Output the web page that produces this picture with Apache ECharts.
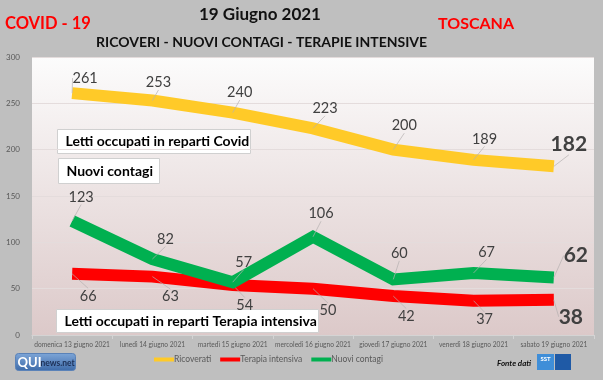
<!DOCTYPE html>
<html><head><meta charset="utf-8">
<script src="https://cdn.jsdelivr.net/npm/echarts@6/dist/echarts.min.js"></script>
<style>html,body{margin:0;padding:0;background:#bfbfbf}#c{width:603px;height:380px}</style>
</head><body><div id="c"></div>
<script>
const categories = ['domenica 13 giugno 2021','lunedì 14 giugno 2021','martedì 15 giugno 2021','mercoledì 16 giugno 2021','giovedì 17 giugno 2021','venerdì 18 giugno 2021','sabato 19 giugno 2021'];
const ricoverati = [261, 253, 240, 223, 200, 189, 182];
const terapia = [66, 63, 54, 50, 42, 37, 38];
const contagi = [123, 82, 57, 106, 60, 67, 62];
const yTicks = [0, 50, 100, 150, 200, 250, 300];

// label offsets (style)
const offR = [[13,-15],[6,-18],[7,-20],[12,-20],[11,-24],[11,-21],[15,-22]];
const offC = [[9,-24],[13,-20],[11,-20],[8,-23],[6,-26],[13,-21],[22,-22]];
const offT = [[16,22],[18,20],[12,20],[15,22],[13,20],[11,19],[17,17]];

const FONT = 'Lato';
const chart = echarts.init(document.getElementById('c'), null, {renderer:'canvas'});

function mkSeries(name, data, color, off, z) {
  const last = data.length - 1;
  return {
    name, type:'line', data: data.map((v,i)=>({
      value:v,
      label: i===last ? {fontSize:21, fontWeight:'bold', color:'#404040'} : undefined
    })),
    z,
    symbol:'circle', symbolSize:0.01, showSymbol:true,
    itemStyle:{color},
    lineStyle:{color, width:12, cap:'butt', join:'miter'},
    emphasis:{disabled:true},
    label:{show:true, position:'inside', fontFamily:FONT, fontSize:14.5, color:'#404040'},
    labelLine:{show:true, length2:0, lineStyle:{color:'#b4b0b0', width:0.7}},
    labelLayout: p => ({dx: off[p.dataIndex][0], dy: off[p.dataIndex][1]})
  };
}

function box(x,y,w,h,text){
  return {type:'group', left:x, top:y, z:100, children:[
    {type:'rect', shape:{x:0,y:0,width:w,height:h}, style:{fill:'#ffffff', stroke:'#d0d0d0', lineWidth:1}},
    {type:'text', style:{x:8, y:h/2, text, fontFamily:FONT, fontWeight:'bold', fontSize:14, fill:'#000', verticalAlign:'middle'}}
  ]};
}

chart.setOption({
  backgroundColor:'#bfbfbf',
  animation:false,
  grid:{left:32, right:9, top:57, bottom:45, show:true, borderWidth:0,
    backgroundColor:{type:'linear', x:0, y:0, x2:0, y2:1, colorStops:[{offset:0,color:'#fcfcfc'},{offset:1,color:'#dcc9c9'}]}},
  xAxis:{type:'category', data:categories, boundaryGap:true,
    axisLine:{lineStyle:{color:'#d4d4d4'}},
    axisTick:{show:true, length:4, lineStyle:{color:'#d4d4d4'}},
    axisLabel:{fontFamily:FONT, fontSize:6.6, color:'#595959', margin:6, interval:0}},
  yAxis:{type:'value', min:0, max:300, interval:50,
    axisLine:{show:false}, axisTick:{show:false},
    axisLabel:{fontFamily:FONT, fontSize:8, color:'#595959', margin:12, formatter: v => yTicks.includes(v) ? String(v) : ''},
    splitLine:{lineStyle:{color:'#e4dcdc', width:1}}},
  legend:{left:149, top:350, itemWidth:20, itemHeight:4, itemGap:9, icon:'rect',
    textStyle:{fontFamily:FONT, fontSize:8.5, color:'#595959', padding:[0,0,0,-5]},
    data:['Ricoverati','Terapia intensiva','Nuovi contagi']},
  series:[
    mkSeries('Ricoverati', ricoverati, '#ffca28', offR, 3),
    mkSeries('Terapia intensiva', terapia, '#ff0000', offT, 4),
    mkSeries('Nuovi contagi', contagi, '#00b050', offC, 5)
  ],
  graphic:[
    {type:'text', left:199, top:6, style:{text:'19 Giugno 2021', fontFamily:FONT, fontWeight:'bold', fontSize:17, fill:'#111'}},
    {type:'text', left:96, top:35, style:{text:'RICOVERI - NUOVI CONTAGI - TERAPIE INTENSIVE', fontFamily:FONT, fontWeight:'bold', fontSize:14, fill:'#111'}},
    {type:'text', left:5, top:15, style:{text:'COVID - 19', fontFamily:FONT, fontWeight:'bold', fontSize:16.5, fill:'#ff0000'}},
    {type:'text', left:438, top:16, style:{text:'TOSCANA', fontFamily:FONT, fontWeight:'bold', fontSize:16, fill:'#ff0000'}},
    box(57,129,193,24,'Letti occupati in reparti Covid'),
    box(58,158,101,25,'Nuovi contagi'),
    box(56,309,262,23,'Letti occupati in reparti Terapia intensiva'),
    {type:'group', left:15, top:353, children:[
      {type:'rect', shape:{x:0,y:0,width:60,height:17,r:3}, style:{fill:{type:'linear',x:0,y:0,x2:0,y2:1,colorStops:[{offset:0,color:'#7ea6d8'},{offset:1,color:'#3d6aa8'}]}, stroke:'#5a82b8'}},
      {type:'text', style:{x:2, y:9, text:'QUI', fontFamily:FONT, fontWeight:'bold', fontSize:13, fill:'#fff', verticalAlign:'middle'}},
      {type:'text', style:{x:25, y:10, text:'news.net', fontFamily:FONT, fontWeight:'bold', fontSize:8.5, fill:'#1c2f55', verticalAlign:'middle'}}
    ]},
    {type:'text', left:497, top:359, style:{text:'Fonte dati', fontFamily:FONT, fontStyle:'italic', fontWeight:'bold', fontSize:8, fill:'#111'}},
    {type:'group', left:537, top:354, children:[
      {type:'rect', shape:{x:0,y:0,width:17,height:16}, style:{fill:'#3f8ed8'}},
      {type:'rect', shape:{x:18,y:0,width:16,height:16}, style:{fill:'#1f5aa6'}},
      {type:'text', style:{x:8.5, y:5, text:'SST', fontFamily:FONT, fontWeight:'bold', fontSize:6, fill:'#fff', align:'center', verticalAlign:'middle'}}
    ]}
  ]
});
</script></body></html>
